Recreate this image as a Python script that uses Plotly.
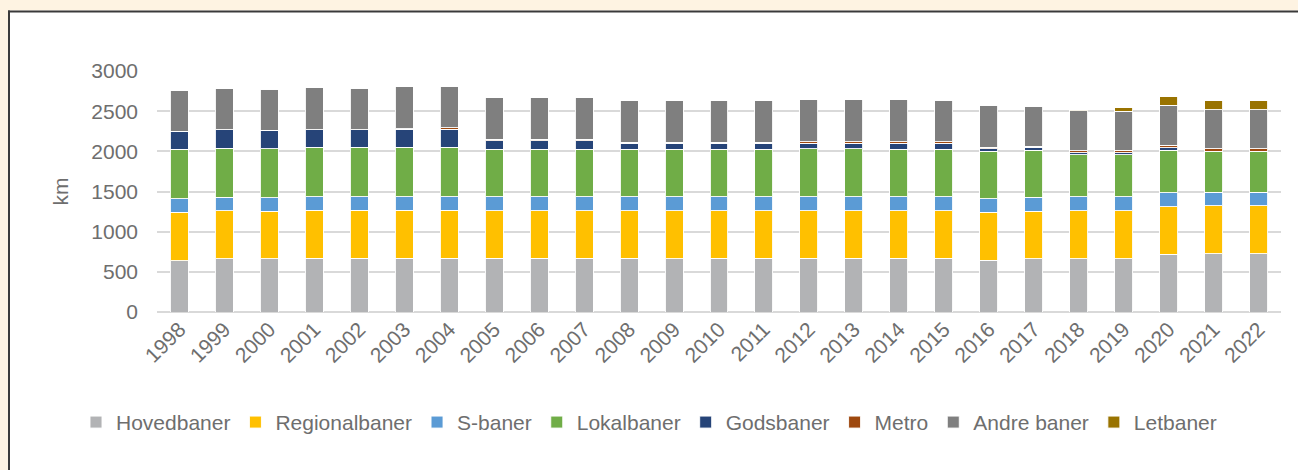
import plotly.graph_objects as go

years = [str(y) for y in range(1998, 2023)]

hovedbaner = [641, 662, 660, 670, 670, 670, 670, 670, 670, 670, 670, 665, 670, 670, 670, 670, 670, 670, 645, 662, 662, 662, 720, 728, 728]
regionalbaner = [600, 596, 594, 596, 596, 596, 596, 588, 588, 588, 588, 593, 588, 588, 588, 588, 592, 592, 596, 592, 596, 596, 592, 592, 592]
s_baner = [170, 170, 170, 170, 170, 170, 170, 174, 174, 174, 174, 174, 174, 174, 174, 174, 170, 170, 170, 174, 174, 174, 173, 170, 170]
lokalbaner = [613, 612, 608, 612, 612, 612, 612, 592, 592, 592, 592, 592, 592, 592, 600, 600, 596, 596, 592, 587, 525, 525, 530, 505, 505]
godsbaner = [223, 228, 228, 220, 220, 224, 224, 107, 107, 107, 74, 74, 74, 74, 66, 66, 70, 70, 29, 33, 25, 25, 29, 5, 5]
metro = [0, 0, 0, 0, 0, 10, 21, 17, 17, 17, 17, 17, 17, 17, 21, 21, 21, 21, 21, 17, 25, 29, 29, 32, 32]
andre_baner = [513, 513, 513, 521, 517, 520, 517, 517, 517, 517, 513, 513, 513, 513, 521, 521, 521, 517, 521, 497, 497, 489, 501, 488, 488]
letbaner = [0, 0, 0, 0, 0, 0, 0, 0, 0, 0, 0, 0, 0, 0, 0, 0, 0, 0, 0, 0, 8, 45, 108, 112, 112]

series = [
    ("Hovedbaner", hovedbaner, "#B2B3B5"),
    ("Regionalbaner", regionalbaner, "#FFC000"),
    ("S-baner", s_baner, "#5B9BD5"),
    ("Lokalbaner", lokalbaner, "#70AD47"),
    ("Godsbaner", godsbaner, "#264478"),
    ("Metro", metro, "#9E480E"),
    ("Andre baner", andre_baner, "#7F7F7F"),
    ("Letbaner", letbaner, "#997300"),
]

W, H = 1298, 470
L, R, T = 157, 17, 70.7
B = H - 312.3
pw, ph = W - L - R, H - T - B
BEIGE = "#FEF3E2"
FRAME = "#3A3A3A"

def px_x(x):
    return (x - L) / pw

def px_y(y):
    return (H - B - y) / ph

fig = go.Figure()
for name, vals, col in series:
    fig.add_trace(go.Bar(
        x=years, y=vals, name=name,
        marker=dict(color=col, line=dict(color="rgba(255,255,255,0.9)", width=1)),
    ))

textcol = "#6E6E6E"
fig.update_layout(
    width=W, height=H,
    margin=dict(l=L, r=R, t=T, b=B),
    barmode="stack",
    bargap=0.6,
    paper_bgcolor="white",
    plot_bgcolor="white",
    font=dict(family="Liberation Sans, Arial, sans-serif", size=20, color=textcol),
    showlegend=True,
    legend=dict(
        orientation="h", traceorder="normal",
        x=px_x(76), xanchor="left",
        y=px_y(423), yanchor="middle",
        font=dict(size=21, color=textcol),
        bgcolor="rgba(255,255,255,0)",
        itemwidth=30,
    ),
    xaxis=dict(
        type="category", tickangle=-45, showgrid=False,
        tickfont=dict(size=21, color=textcol),
        showline=False, zeroline=False,
    ),
    yaxis=dict(
        range=[0, 3000], tickvals=[0, 500, 1000, 1500, 2000, 2500, 3000],
        gridcolor="#D9D9D9", gridwidth=1.5,
        zeroline=True, zerolinecolor="#D9D9D9", zerolinewidth=1.5,
        tickfont=dict(size=21, color=textcol),
        ticklabelstandoff=18,
        title=dict(text="km", font=dict(size=21, color=textcol), standoff=16),
    ),
    shapes=[
        dict(type="rect", xref="paper", yref="paper", layer="below",
             x0=px_x(-5), x1=px_x(1310), y0=px_y(10), y1=px_y(-5),
             fillcolor=BEIGE, line=dict(width=0)),
        dict(type="rect", xref="paper", yref="paper", layer="below",
             x0=px_x(-5), x1=px_x(8), y0=px_y(480), y1=px_y(-5),
             fillcolor=BEIGE, line=dict(width=0)),
        dict(type="line", xref="paper", yref="paper", layer="below",
             x0=px_x(8), x1=px_x(1310), y0=px_y(11), y1=px_y(11),
             line=dict(color=FRAME, width=2)),
        dict(type="line", xref="paper", yref="paper", layer="below",
             x0=px_x(9), x1=px_x(9), y0=px_y(10), y1=px_y(480),
             line=dict(color=FRAME, width=2)),
    ],
)

fig.write_html(
    "out.html",
    config={"displayModeBar": False},
    post_script=(
        "document.body.style.margin='0';"
        "document.body.style.overflow='hidden';"
        "document.documentElement.style.overflow='hidden';"
        "document.body.style.background='white';"
        "var d=document.querySelector('.plotly-graph-div');"
        "d.style.position='absolute';d.style.left='0px';d.style.top='0px';"
    ),
)
